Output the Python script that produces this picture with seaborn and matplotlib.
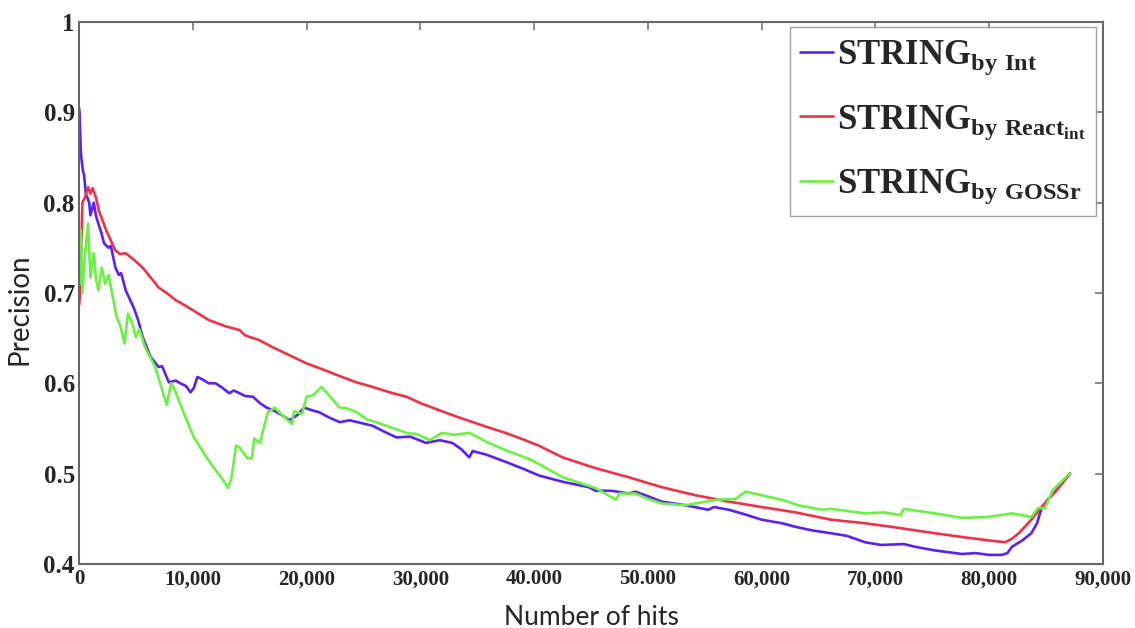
import numpy as np
import pandas as pd
import matplotlib
matplotlib.use("Agg")
import matplotlib.pyplot as plt
import seaborn as sns

# values (x in thousands of hits)
int_x = [0.0, 0.05, 0.15, 0.2, 0.35, 0.45, 0.6, 0.9, 1.0, 1.3, 1.5, 1.7, 2.0, 2.2, 2.6, 2.8,
         3.2, 3.5, 3.7, 4.1, 4.8, 5.2, 5.6, 6.3, 7.0, 7.3, 7.9, 8.5, 8.9, 9.4, 9.8, 10.1,
         10.4, 10.9, 11.4, 12.0, 12.6, 13.2, 13.6, 14.1, 14.6, 15.3, 15.9, 16.5, 17.1, 17.8,
         18.5, 19.2, 19.8, 20.5, 21.1, 22.0, 22.9, 23.8, 24.8, 25.8, 26.9, 27.9, 29.1, 30.5,
         31.7, 32.8, 33.6, 34.3, 34.6, 35.8, 37.5, 39.3, 40.4, 42.5, 44.8, 45.4, 46.8, 48.3,
         48.9, 50.0, 51.2, 53.3, 55.3, 55.8, 57.1, 58.5, 60.0, 61.8, 63.0, 64.5, 66.1, 67.5,
         69.1, 70.5, 72.5, 73.5, 75.2, 77.6, 78.8, 80.0, 81.1, 81.6, 82.0, 82.9, 83.7, 84.2,
         84.6, 85.2, 85.8, 86.4, 86.9, 87.1]
int_y = [0.905, 0.90, 0.86, 0.85, 0.835, 0.83, 0.81, 0.80, 0.786, 0.80, 0.785, 0.777, 0.765,
         0.755, 0.75, 0.752, 0.728, 0.72, 0.722, 0.703, 0.684, 0.67, 0.651, 0.629, 0.618,
         0.619, 0.601, 0.603, 0.60, 0.597, 0.59, 0.595, 0.607, 0.604, 0.60, 0.60, 0.595,
         0.589, 0.592, 0.589, 0.586, 0.585, 0.578, 0.573, 0.57, 0.565, 0.559, 0.565, 0.573,
         0.57, 0.568, 0.562, 0.557, 0.559, 0.556, 0.553, 0.546, 0.54, 0.541, 0.534, 0.537,
         0.534, 0.527, 0.518, 0.525, 0.521, 0.513, 0.504, 0.498, 0.491, 0.485, 0.481, 0.481,
         0.478, 0.48, 0.475, 0.469, 0.465, 0.46, 0.463, 0.46, 0.455, 0.449, 0.445, 0.441,
         0.437, 0.434, 0.431, 0.424, 0.421, 0.422, 0.419, 0.415, 0.411, 0.412, 0.41, 0.41,
         0.412, 0.419, 0.426, 0.434, 0.445, 0.462, 0.472, 0.48, 0.489, 0.497, 0.5]

react_x = [0.0, 0.1, 0.3, 0.5, 0.8, 1.0, 1.2, 1.5, 1.75, 2.4, 3.2, 3.6, 4.1, 4.8, 5.6, 6.3,
           7.0, 7.8, 8.5, 9.2, 10.0, 11.4, 12.9, 14.1, 14.6, 15.8, 17.0, 18.5, 20.0, 21.5,
           22.9, 24.4, 25.8, 27.3, 28.8, 30.2, 31.7, 33.2, 34.6, 36.0, 37.5, 39.0, 40.4,
           42.5, 45.4, 48.3, 51.2, 54.2, 57.1, 60.0, 63.0, 66.1, 69.1, 72.0, 75.2, 78.1,
           80.0, 81.4, 82.0, 82.6, 83.7, 84.6, 85.8, 86.9, 87.1]
react_y = [0.686, 0.70, 0.80, 0.805, 0.817, 0.81, 0.816, 0.805, 0.791, 0.769, 0.747, 0.743,
           0.744, 0.737, 0.728, 0.717, 0.706, 0.699, 0.692, 0.687, 0.681, 0.67, 0.663, 0.659,
           0.653, 0.648, 0.64, 0.631, 0.622, 0.615, 0.608, 0.601, 0.596, 0.59, 0.585, 0.577,
           0.57, 0.563, 0.557, 0.551, 0.545, 0.538, 0.531, 0.518, 0.506, 0.496, 0.485,
           0.476, 0.469, 0.463, 0.457, 0.449, 0.445, 0.44, 0.434, 0.429, 0.426, 0.424,
           0.428, 0.434, 0.449, 0.463, 0.48, 0.497, 0.5]

goss_x = [0.05, 0.15, 0.3, 0.5, 0.8, 1.0, 1.3, 1.5, 1.7, 2.0, 2.3, 2.6, 2.9, 3.3, 3.6, 4.0,
          4.3, 4.7, 5.0, 5.3, 5.8, 6.2, 6.7, 7.2, 7.7, 8.1, 8.4, 9.2, 10.1, 11.0, 11.8, 12.5,
          13.1, 13.4, 13.8, 14.1, 14.8, 15.2, 15.4, 15.9, 16.6, 17.2, 18.0, 18.7, 18.9, 19.6,
          20.0, 20.6, 21.3, 22.1, 22.9, 23.6, 24.4, 25.3, 26.1, 27.0, 27.9, 28.8, 29.6, 30.2,
          30.8, 31.9, 33.0, 34.3, 35.1, 35.8, 37.5, 39.6, 40.5, 42.5, 45.4, 47.2, 47.5, 48.9,
          50.0, 51.2, 53.3, 54.2, 56.0, 57.7, 58.6, 60.0, 61.8, 63.2, 65.3, 66.1, 69.1, 70.8,
          72.2, 72.5, 75.2, 77.6, 79.9, 82.0, 83.7, 84.3, 84.9, 85.6, 86.9, 87.1]
goss_y = [0.71, 0.77, 0.70, 0.74, 0.777, 0.717, 0.744, 0.715, 0.703, 0.728, 0.71, 0.72, 0.70,
          0.673, 0.665, 0.644, 0.677, 0.666, 0.651, 0.66, 0.64, 0.63, 0.618, 0.597, 0.576,
          0.60, 0.593, 0.567, 0.54, 0.522, 0.507, 0.496, 0.484, 0.495, 0.531, 0.529, 0.517,
          0.517, 0.539, 0.534, 0.568, 0.573, 0.563, 0.555, 0.569, 0.566, 0.585, 0.587, 0.596,
          0.585, 0.573, 0.572, 0.568, 0.56, 0.557, 0.553, 0.549, 0.545, 0.544, 0.541, 0.537,
          0.545, 0.543, 0.545, 0.54, 0.535, 0.526, 0.516, 0.51, 0.496, 0.484, 0.471, 0.478,
          0.478, 0.472, 0.467, 0.465, 0.467, 0.471, 0.472, 0.48, 0.476, 0.471, 0.465, 0.46,
          0.461, 0.456, 0.457, 0.454, 0.461, 0.456, 0.451, 0.452, 0.456, 0.452, 0.462, 0.462,
          0.482, 0.498, 0.5]

series = ["Int", "React", "GOSSr"]
labels = [r"$\mathbf{STRING}_{\mathbf{by\ Int}}$",
          r"$\mathbf{STRING}_{\mathbf{by\ React}_{\mathbf{int}}}$",
          r"$\mathbf{STRING}_{\mathbf{by\ GOSSr}}$"]
colors = ["#5a22f2", "#ee3347", "#6cf046"]
x_ticks = [0, 10000, 20000, 30000, 40000, 50000, 60000, 70000, 80000, 90000]
x_tick_labels = ["0", "10,000", "20,000", "30,000", "40.000", "50.000",
                 "60,000", "70,000", "80,000", "90,000"]
y_ticks = [0.4, 0.5, 0.6, 0.7, 0.8, 0.9, 1.0]
y_tick_labels = ["0.4", "0.5", "0.6", "0.7", "0.8", "0.9", "1"]

frames = []
for name, xs, ys in zip(series, [int_x, react_x, goss_x], [int_y, react_y, goss_y]):
    frames.append(pd.DataFrame({"hits": np.array(xs) * 1000, "precision": ys, "series": name}))
df = pd.concat(frames, ignore_index=True)

sns.set_style("white")
plt.rcParams["mathtext.fontset"] = "custom"
plt.rcParams["mathtext.bf"] = "Liberation Serif:bold"
plt.rcParams["mathtext.rm"] = "Liberation Serif"

fig = plt.figure(figsize=(11.35, 6.28), dpi=100)
ax = fig.add_axes([0.0696, 0.102, 0.9022, 0.863])

sns.lineplot(data=df, x="hits", y="precision", hue="series", hue_order=series,
             palette=colors, sort=False, estimator=None, linewidth=1.9, ax=ax)

ax.set_xlim(0, 90000)
ax.set_ylim(0.4, 1.0)
ax.set_xticks(x_ticks)
ax.set_xticklabels(x_tick_labels, fontfamily="Liberation Serif", fontweight="bold", fontsize=15)
ax.set_yticks(y_ticks)
ax.set_yticklabels(y_tick_labels, fontfamily="Liberation Serif", fontweight="bold", fontsize=18)
ax.tick_params(direction="in", length=6, width=1.2, color="#777777",
               top=True, right=True, pad=4)
ax.tick_params(axis="y", pad=3)

for s in ax.spines.values():
    s.set_color("#666666")
    s.set_linewidth(1.5)

ax.set_xlabel("Number of hits", fontfamily="Lato", fontsize=19, labelpad=11)
ax.set_ylabel("Precision", fontfamily="Lato", fontsize=20)
ax.yaxis.set_label_coords(-0.045, 0.47)

handles = ax.get_legend().legend_handles
ax.legend(handles, labels, loc="upper right", bbox_to_anchor=(0.993, 0.991),
          fontsize=25, frameon=True, fancybox=False, edgecolor="#888888",
          handlelength=0.95, handletextpad=0.1, labelspacing=0.7,
          borderpad=0.3, borderaxespad=0)

fig.savefig("out.png", dpi=100)
